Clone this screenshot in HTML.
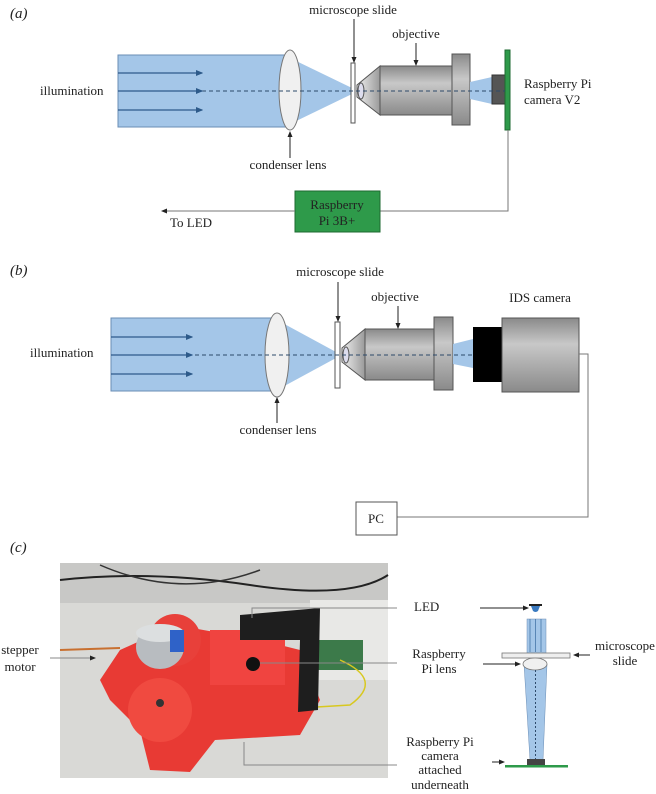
<!DOCTYPE html>
<html><head><meta charset="utf-8"><style>
html,body{margin:0;padding:0;background:#fff;}
svg{display:block;}
text{font-family:"Liberation Serif",serif;font-size:13px;fill:#222;}
</style></head><body>
<svg width="656" height="794" viewBox="0 0 656 794" xmlns="http://www.w3.org/2000/svg">
<defs>
<marker id="ah" markerWidth="6" markerHeight="6" refX="5" refY="3" orient="auto"><path d="M0,0.5 L6,3 L0,5.5z" fill="#222"/></marker>
<marker id="bh" markerWidth="6" markerHeight="6" refX="5" refY="3" orient="auto"><path d="M0,0.5 L6,3 L0,5.5z" fill="#2d5a8a"/></marker>
<linearGradient id="gv" x1="0" y1="0" x2="0" y2="1"><stop offset="0" stop-color="#8a8a8a"/><stop offset="0.35" stop-color="#c8c8c8"/><stop offset="1" stop-color="#8a8a8a"/></linearGradient>
<linearGradient id="gc" x1="0" y1="0" x2="1" y2="0"><stop offset="0" stop-color="#f0f0f0"/><stop offset="1" stop-color="#9a9a9a"/></linearGradient>
</defs>

<!-- Panel a -->
<text x="10" y="18" font-style="italic" style="font-size:15px">(a)</text>
<rect x="118" y="55" width="172" height="72" fill="#a4c6e8" stroke="#6a8db5"/>
<polygon points="290,58 352,88 352,94 290,124" fill="#a4c6e8"/>
<ellipse cx="290" cy="90" rx="11" ry="40" fill="#f0f0f0" stroke="#777"/>
<rect x="351" y="63" width="4" height="60" fill="#fff" stroke="#555"/>
<polygon points="380,66 357,85 357,97 380,115" fill="url(#gc)" stroke="#555"/>
<ellipse cx="361" cy="91" rx="3" ry="8" fill="#dde" stroke="#555"/>
<rect x="380" y="66" width="72" height="49" fill="url(#gv)" stroke="#555"/>
<rect x="452" y="54" width="18" height="71" fill="url(#gv)" stroke="#555"/>
<polygon points="470,82 492,77 492,104 470,99" fill="#a4c6e8"/>
<rect x="492" y="75" width="13" height="29" fill="#555" stroke="#333"/>
<rect x="505" y="50" width="5" height="80" fill="#2e9a4a" stroke="#1d6a30"/>
<line x1="118" y1="91" x2="505" y2="91" stroke="#2d4a6a" stroke-dasharray="4,3"/>
<g stroke="#2d5a8a" stroke-width="1.2"><line x1="118" y1="73" x2="202" y2="73" marker-end="url(#bh)"/><line x1="118" y1="91" x2="202" y2="91" marker-end="url(#bh)"/><line x1="118" y1="110" x2="202" y2="110" marker-end="url(#bh)"/></g>
<text x="40" y="95">illumination</text>
<text x="353" y="14" text-anchor="middle">microscope slide</text>
<line x1="354" y1="19" x2="354" y2="62" stroke="#222" marker-end="url(#ah)"/>
<text x="416" y="38" text-anchor="middle">objective</text>
<line x1="416" y1="43" x2="416" y2="65" stroke="#222" marker-end="url(#ah)"/>
<text x="288" y="169" text-anchor="middle">condenser lens</text>
<line x1="290" y1="158" x2="290" y2="132" stroke="#222" marker-end="url(#ah)"/>
<text x="524" y="88">Raspberry Pi</text>
<text x="524" y="104">camera V2</text>
<polyline points="508,130 508,211 380,211" fill="none" stroke="#777"/>
<rect x="295" y="191" width="85" height="41" fill="#2e9a4a" stroke="#1d6a30"/>
<text x="337" y="209" text-anchor="middle">Raspberry</text>
<text x="337" y="225" text-anchor="middle">Pi 3B+</text>
<line x1="295" y1="211" x2="162" y2="211" stroke="#777" marker-end="url(#ah)"/>
<text x="170" y="227">To LED</text>

<!-- Panel b -->
<text x="10" y="275" font-style="italic" style="font-size:15px">(b)</text>
<rect x="111" y="318" width="166" height="73" fill="#a4c6e8" stroke="#6a8db5"/>
<polygon points="277,320 336,352 336,358 277,390" fill="#a4c6e8"/>
<ellipse cx="277" cy="355" rx="12" ry="42" fill="#f0f0f0" stroke="#777"/>
<rect x="335" y="322" width="5" height="66" fill="#fff" stroke="#555"/>
<polygon points="365,329 342,348 342,362 365,380" fill="url(#gc)" stroke="#555"/>
<ellipse cx="346" cy="355" rx="3" ry="8" fill="#dde" stroke="#555"/>
<rect x="365" y="329" width="70" height="51" fill="url(#gv)" stroke="#555"/>
<rect x="434" y="317" width="19" height="73" fill="url(#gv)" stroke="#555"/>
<polygon points="453,344 473,339 473,368 453,364" fill="#a4c6e8"/>
<rect x="473" y="327" width="29" height="55" fill="#000"/>
<rect x="502" y="318" width="77" height="74" fill="url(#gv)" stroke="#555"/>
<line x1="111" y1="355" x2="473" y2="355" stroke="#2d4a6a" stroke-dasharray="4,3"/>
<g stroke="#2d5a8a" stroke-width="1.2"><line x1="111" y1="337" x2="192" y2="337" marker-end="url(#bh)"/><line x1="111" y1="355" x2="192" y2="355" marker-end="url(#bh)"/><line x1="111" y1="374" x2="192" y2="374" marker-end="url(#bh)"/></g>
<text x="30" y="357">illumination</text>
<text x="340" y="276" text-anchor="middle">microscope slide</text>
<line x1="338" y1="282" x2="338" y2="321" stroke="#222" marker-end="url(#ah)"/>
<text x="395" y="301" text-anchor="middle">objective</text>
<line x1="398" y1="306" x2="398" y2="328" stroke="#222" marker-end="url(#ah)"/>
<text x="540" y="302" text-anchor="middle">IDS camera</text>
<text x="278" y="434" text-anchor="middle">condenser lens</text>
<line x1="277" y1="423" x2="277" y2="398" stroke="#222" marker-end="url(#ah)"/>
<polyline points="579,354 588,354 588,517 397,517" fill="none" stroke="#777"/>
<rect x="356" y="502" width="41" height="33" fill="#fff" stroke="#555"/>
<text x="376" y="523" text-anchor="middle">PC</text>

<!-- Panel c -->
<text x="10" y="552" font-style="italic" style="font-size:15px">(c)</text>
<rect x="60" y="563" width="328" height="215" fill="#d9d9d6"/>
<rect x="60" y="563" width="328" height="40" fill="#c8c8c6"/>
<path d="M60,580 Q150,570 250,585 T388,575" stroke="#222" stroke-width="2" fill="none"/>
<path d="M100,565 Q180,600 260,570" stroke="#333" stroke-width="1.5" fill="none"/>
<rect x="310" y="600" width="78" height="80" fill="#e8e8e6"/>
<rect x="318" y="640" width="45" height="30" fill="#3c7a4a"/>
<path d="M340,660 Q385,680 350,705 L300,708" stroke="#d8c820" stroke-width="1.5" fill="none"/>
<path d="M60,650 L120,648" stroke="#c87030" stroke-width="2"/>
<!-- red printed parts -->
<polygon points="120,650 175,625 260,640 300,650 320,700 300,735 215,740 190,772 150,770 140,730 110,700 100,680" fill="#e83a34"/>
<circle cx="160" cy="710" r="32" fill="#f04a40"/>
<circle cx="175" cy="640" r="26" fill="#e8403a"/>
<rect x="210" y="630" width="75" height="55" fill="#f04440"/>
<polygon points="240,615 320,608 318,710 298,712 300,640 240,640" fill="#1e1e1e"/>
<circle cx="253" cy="664" r="7" fill="#111"/>
<ellipse cx="160" cy="647" rx="24" ry="22" fill="#b8bcc0"/>
<ellipse cx="160" cy="633" rx="24" ry="9" fill="#dcdfe0"/>
<rect x="170" y="630" width="14" height="22" fill="#2f62c8"/>
<circle cx="160" cy="703" r="4" fill="#333"/>
<g stroke="#888" fill="none">
<polyline points="252,618 252,608 397,608"/>
<line x1="260" y1="663" x2="397" y2="663"/>
<polyline points="244,742 244,765 397,765"/>
</g>
<g stroke="#888" fill="none"><line x1="50" y1="658" x2="95" y2="658" marker-end="url(#ah)"/></g>
<text x="20" y="654" text-anchor="middle">stepper</text>
<text x="20" y="671" text-anchor="middle">motor</text>
<text x="414" y="611">LED</text>
<text x="439" y="658" text-anchor="middle">Raspberry</text>
<text x="439" y="673" text-anchor="middle">Pi lens</text>
<text x="625" y="650" text-anchor="middle">microscope</text>
<text x="625" y="665" text-anchor="middle">slide</text>
<text x="440" y="746" text-anchor="middle">Raspberry Pi</text>
<text x="440" y="760" text-anchor="middle">camera</text>
<text x="440" y="774" text-anchor="middle">attached</text>
<text x="440" y="789" text-anchor="middle">underneath</text>
<!-- right schematic -->
<rect x="529" y="604" width="13" height="2" fill="#222"/>
<path d="M531,606 L540,606 L538,611 Q535.5,613 533,611 Z" fill="#3a7ac0"/>
<rect x="527" y="619" width="19" height="36" fill="#a4c6e8" stroke="#6a8db5" stroke-width="0.5"/>
<polygon points="524,664 547,664 543,760 530,760" fill="#a4c6e8" stroke="#6a8db5" stroke-width="0.5"/>
<g stroke="#3a6aa0" stroke-width="0.7"><line x1="530" y1="619" x2="530" y2="652"/><line x1="535.5" y1="619" x2="535.5" y2="652"/><line x1="541" y1="619" x2="541" y2="652"/></g>
<rect x="502" y="653" width="68" height="5" fill="#eee" stroke="#777" stroke-width="0.8"/>
<ellipse cx="535" cy="664" rx="12" ry="6" fill="#f0f0f0" stroke="#777" stroke-width="0.8"/>
<line x1="535.5" y1="670" x2="535.5" y2="760" stroke="#2d4a6a" stroke-dasharray="2,2"/>
<rect x="527" y="759" width="18" height="6" fill="#444"/>
<rect x="505" y="765" width="63" height="2.5" fill="#2e9a4a"/>
<g stroke="#222"><line x1="480" y1="608" x2="528" y2="608" marker-end="url(#ah)"/>
<line x1="483" y1="664" x2="520" y2="664" marker-end="url(#ah)"/>
<line x1="590" y1="655" x2="574" y2="655" marker-end="url(#ah)"/>
<line x1="492" y1="762" x2="504" y2="762" marker-end="url(#ah)"/></g>
</svg>
</body></html>
